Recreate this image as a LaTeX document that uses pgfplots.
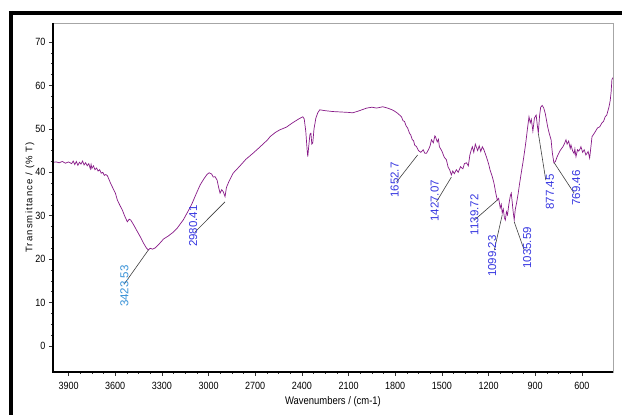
\documentclass[border=0pt]{standalone}
\usepackage{fontspec}
\setmainfont{Liberation Sans}
\newfontfamily\narrowfont[FakeStretch=0.86]{Liberation Sans}
\newfontfamily\spacedfont[LetterSpace=12]{Liberation Sans}
\usepackage{pgfplots}
\pgfplotsset{compat=1.18}
\definecolor{spec}{RGB}{135,25,135}
\definecolor{lblue}{RGB}{55,145,215}
\definecolor{dblue}{RGB}{55,55,225}
\begin{document}
\begin{tikzpicture}
\path[use as bounding box, fill=white] (-53pt,-43pt) rectangle (569pt,372pt);
\begin{axis}[
  at={(0pt,0pt)}, anchor=south west,
  scale only axis, width=560pt, height=349pt,
  x dir=reverse, xmin=400, xmax=4000, ymin=-6, ymax=74.4,
  xtick={600,900,...,3900}, ytick={0,10,...,70},
  minor x tick num=3, minor y tick num=3,
  tick align=outside, major tick length=4pt, minor tick length=2pt,
  tick pos=left,
  axis line style={gray!70, line width=0.8pt},
  tick style={black!80, line width=0.6pt},
  /pgf/number format/1000 sep={},
  /pgf/number format/assume math mode=true,
  ticklabel style={font=\narrowfont\fontsize{10.5}{11}\selectfont},
  xticklabel style={yshift=-3pt},
  yticklabel style={xshift=0pt},
  xlabel={Wavenumbers / (cm-1)},
  ylabel={Transmittance / (\% T)},
  every axis x label/.style={at={(axis description cs:0.5,0)}, yshift=-30pt, anchor=center, font=\narrowfont\fontsize{11}{12}\selectfont},
  every axis y label/.style={at={(axis description cs:0,0.5)}, xshift=-23pt, rotate=90, anchor=center, font=\spacedfont\fontsize{9.5}{10}\selectfont},
  clip=false,
]
\addplot[spec, line width=0.7pt] coordinates {
(4000,42.3)(3980,42.4)(3960,42.2)(3940,42.5)(3920,42.1)(3900,42.4)(3880,42.0)(3870,42.6)(3860,41.8)(3850,42.5)(3840,41.6)(3830,42.3)(3820,41.9)(3810,42.6)(3800,41.7)(3790,42.2)(3780,41.5)(3770,42.0)(3760,40.8)(3755,41.8)(3750,40.9)(3740,41.5)(3730,40.6)(3720,41.0)(3710,40.3)(3700,40.6)(3690,39.8)(3680,40.0)(3670,39.3)(3660,39.5)(3650,39.2)(3630,37.5)(3610,36.0)(3599,35.2)(3586,33.6)(3570,32.4)(3554,31.3)(3540,30.0)(3522,28.6)(3510,29.2)(3500,29.0)(3480,27.8)(3460,26.5)(3438,25.1)(3420,23.8)(3400,22.6)(3387,22.1)(3375,22.5)(3360,22.3)(3342,22.6)(3320,23.4)(3300,24.2)(3291,24.6)(3260,25.3)(3227,26.2)(3200,27.2)(3180,28.2)(3163,29.0)(3140,30.5)(3120,31.8)(3105,32.9)(3080,35.0)(3054,37.1)(3030,38.5)(3010,39.5)(2996,39.9)(2980,39.6)(2970,38.9)(2958,39.0)(2945,38.2)(2935,36.5)(2926,35.2)(2915,36.0)(2905,35.5)(2894,34.4)(2885,36.5)(2870,37.8)(2842,39.8)(2800,41.4)(2760,43.0)(2714,44.4)(2680,45.5)(2650,46.5)(2620,47.5)(2605,48.2)(2570,49.2)(2541,49.8)(2500,50.4)(2460,51.4)(2420,52.3)(2394,52.8)(2385,52.3)(2375,49.5)(2366,45.0)(2362,43.6)(2356,46.0)(2348,48.8)(2342,49.0)(2336,46.5)(2330,46.8)(2322,50.0)(2310,52.5)(2298,53.7)(2285,54.4)(2250,54.2)(2201,54.0)(2150,53.9)(2100,53.8)(2073,53.7)(2030,54.2)(1983,54.8)(1950,55.0)(1920,54.8)(1880,55.1)(1849,54.8)(1820,54.4)(1800,54.0)(1785,53.6)(1772,53.2)(1760,52.8)(1750,51.9)(1740,51.7)(1730,50.7)(1720,50.2)(1708,49.0)(1700,48.6)(1690,47.5)(1682,47.3)(1675,46.3)(1663,45.9)(1650,45.0)(1635,44.6)(1620,45.2)(1610,44.4)(1599,44.4)(1585,45.3)(1575,46.2)(1567,47.5)(1555,46.8)(1545,48.4)(1541,48.2)(1530,47.0)(1522,47.6)(1516,45.9)(1500,44.9)(1485,43.5)(1471,42.9)(1460,41.2)(1450,40.6)(1439,39.4)(1430,40.3)(1420,39.7)(1407,40.6)(1395,40.0)(1380,41.3)(1365,40.8)(1355,42.0)(1342,42.2)(1330,41.5)(1320,44.0)(1310,45.3)(1304,45.9)(1295,44.6)(1285,46.5)(1270,45.0)(1260,46.1)(1250,44.8)(1240,45.9)(1230,45.2)(1214,43.6)(1200,42.0)(1190,40.5)(1176,39.0)(1165,37.5)(1155,35.5)(1144,33.6)(1135,34.0)(1125,31.8)(1118,32.6)(1112,30.6)(1105,31.5)(1098,29.5)(1092,29.0)(1085,30.9)(1078,30.2)(1070,32.5)(1060,34.6)(1054,35.2)(1048,33.2)(1042,31.0)(1035,29.0)(1028,31.5)(1020,32.9)(1010,35.0)(1000,37.5)(990,39.8)(980,42.0)(970,44.4)(960,47.0)(950,50.0)(940,52.8)(932,51.4)(925,52.2)(915,49.5)(905,52.5)(894,53.2)(887,51.0)(880,49.0)(872,53.0)(865,55.0)(855,55.4)(845,54.8)(835,53.5)(820,50.5)(810,49.0)(798,47.5)(790,44.5)(780,42.2)(770,42.5)(759,43.6)(740,45.0)(720,46.0)(710,46.8)(702,47.5)(695,46.5)(685,47.2)(675,45.5)(670,46.3)(660,45.0)(650,44.3)(645,45.4)(638,43.6)(628,45.2)(620,44.9)(610,45.5)(606,45.9)(595,44.6)(585,45.2)(574,44.0)(560,44.8)(550,43.3)(540,46.5)(535,48.2)(520,49.0)(500,50.2)(485,50.5)(471,51.4)(460,51.8)(450,52.8)(440,53.2)(430,54.5)(426,55.0)(418,56.5)(412,58.5)(407,61.3)(402,61.8)
};
% black left and bottom axis lines
\draw[black, line width=1.3pt] (rel axis cs:0,1) -- (rel axis cs:0,0) -- (rel axis cs:1,0);
% connector lines
\draw[black!75, line width=0.6pt] (axis cs:3387,22.1) -- (axis cs:3541,14.3);
\draw[black!75, line width=0.6pt] (axis cs:2894,33.2) -- (axis cs:3086,26.3);
\draw[black!75, line width=0.6pt] (axis cs:1656,44.0) -- (axis cs:1791,37.8);
\draw[black!75, line width=0.6pt] (axis cs:1439,38.9) -- (axis cs:1535,33.2);
\draw[black!75, line width=0.6pt] (axis cs:1144,33.6) -- (axis cs:1291,29.0);
\draw[black!75, line width=0.6pt] (axis cs:1112,30.2) -- (axis cs:1163,22.1);
\draw[black!75, line width=0.6pt] (axis cs:1035,28.6) -- (axis cs:971,22.1);
\draw[black!75, line width=0.6pt] (axis cs:880,49.0) -- (axis cs:832,38.2);
\draw[black!75, line width=0.6pt] (axis cs:778,42.2) -- (axis cs:650,35.2);
% peak labels
\tikzset{pk/.style={rotate=90, inner sep=0pt, font=\fontsize{11.5}{12}\selectfont}}
\node[pk, text=lblue] at (axis cs:3541,13.8) {3423.53};
\node[pk, text=dblue] at (axis cs:3099,27.6) {2980.41};
\node[pk, text=dblue] at (axis cs:1804,38.2) {1652.7};
\node[pk, text=dblue] at (axis cs:1547,33.4) {1427.07};
\node[pk, text=dblue] at (axis cs:1291,30.2) {1139.72};
\node[pk, text=dblue] at (axis cs:1176,20.7) {1099.23};
\node[pk, text=dblue] at (axis cs:952,22.6) {1035.59};
\node[pk, text=dblue] at (axis cs:806,35.5) {877.45};
\node[pk, text=dblue] at (axis cs:637,36.4) {769.46};
\end{axis}
\draw[black, line width=4pt] (-44pt,359pt) -- (569pt,359pt);
\draw[black, line width=4pt] (-42pt,361pt) -- (-42pt,-43pt);
\end{tikzpicture}
\end{document}
